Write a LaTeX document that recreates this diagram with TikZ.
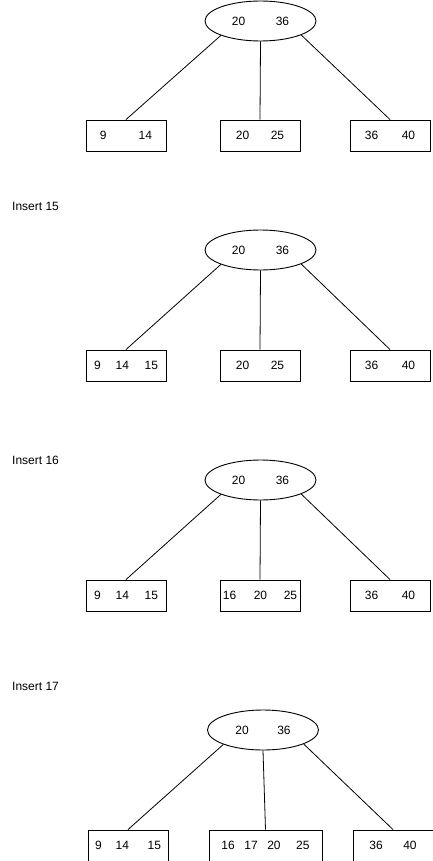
\documentclass[tikz,border=0pt]{standalone}
\usepackage{fontspec}
\setmainfont{Liberation Sans}
\usepackage{tikz}
\usetikzlibrary{shapes.geometric}

\tikzset{
  keynode/.style={draw, line width=0.9pt, font=\fontsize{12}{14}\selectfont},
  root/.style={keynode, ellipse, minimum width=111pt, minimum height=40pt, inner sep=0pt},
  leaf/.style={keynode, rectangle, minimum width=80pt, minimum height=31pt, inner sep=0pt},
  edge/.style={line width=0.8pt},
  caption/.style={anchor=west, inner sep=0pt, font=\fontsize{12}{14}\selectfont}
}
\newcommand{\kgap}[1]{\hspace{#1pt}}

\begin{document}
\begin{tikzpicture}[x=1pt,y=-1pt]
	\useasboundingbox (0,0) rectangle (433,861);
	% before any insert
	\node[root] (r1) at (260.5,21) {20\kgap{30.6}36};
	\node[leaf] (a1) at (126,135.5) {9\kgap{32}14\kgap{6.6}};
	\node[leaf] (b1) at (260,135.5) {20\kgap{21.6}25};
	\node[leaf] (c1) at (390,135.5) {36\kgap{23.6}40};
	\draw[edge] (r1.200) -- (a1.north);
	\draw[edge] (r1.south) -- (b1.north);
	\draw[edge] (r1.-19) -- (c1.north);

	\node[caption] (t15) at (12,206) {Insert 15};
	\node[root] (r2) at (260.5,250) {20\kgap{30.6}36};
	\node[leaf] (a2) at (126,365.5) {9\kgap{15}14\kgap{15.6}15\kgap{8.6}};
	\node[leaf] (b2) at (260,365.5) {20\kgap{21.6}25};
	\node[leaf] (c2) at (390,365.5) {36\kgap{23.6}40};
	\draw[edge] (r2.200) -- (a2.north);
	\draw[edge] (r2.south) -- (b2.north);
	\draw[edge] (r2.-19) -- (c2.north);

	\node[caption] (t16) at (12,460) {Insert 16};
	\node[root] (r3) at (260.5,480) {20\kgap{30.6}36};
	\node[leaf] (a3) at (126,595.5) {9\kgap{15}14\kgap{15.6}15\kgap{8.6}};
	\node[leaf] (b3) at (260,595.5) {16\kgap{17.6}20\kgap{16.6}25};
	\node[leaf] (c3) at (390,595.5) {36\kgap{23.6}40};
	\draw[edge] (r3.200) -- (a3.north);
	\draw[edge] (r3.south) -- (b3.north);
	\draw[edge] (r3.-19) -- (c3.north);

	\node[caption] (t17) at (12,686.5) {Insert 17};
	\node[root] (r4) at (263,730) {20\kgap{28.6}36};
	\node[leaf] (a4) at (128,845.5) {9\kgap{14}14\kgap{18.6}15\kgap{4.6}};
	\node[leaf, minimum width=113pt] (b4) at (265.5,845.5) {16\kgap{9.6}17\kgap{9.6}20\kgap{15.6}25\kgap{2}};
	\node[leaf] (c4) at (393,845.5) {36\kgap{20.6}40};
	\draw[edge] (r4.200) -- (a4.north);
	\draw[edge] (r4.south) -- (b4.north);
	\draw[edge] (r4.-19) -- (c4.north);
\end{tikzpicture}
\end{document}
